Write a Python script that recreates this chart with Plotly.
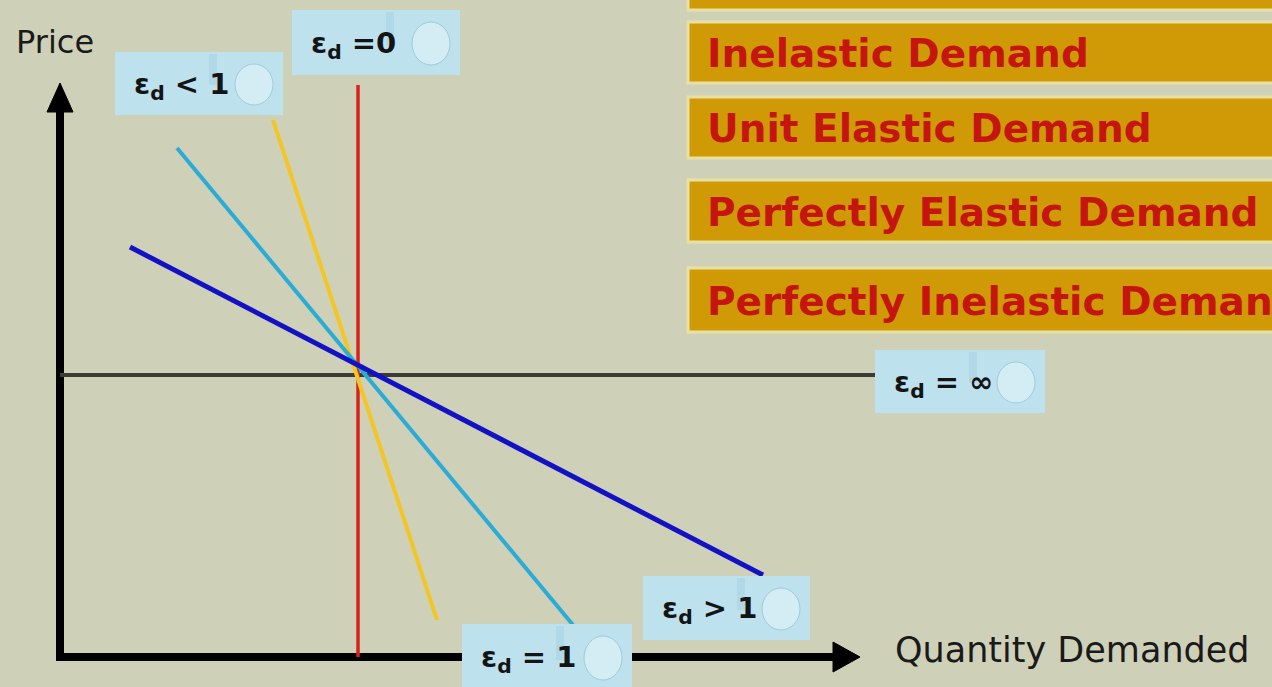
import plotly.graph_objects as go

# demand curves, in quantity / price units measured from the axes corner
curve_names = ["perfectly elastic", "perfectly inelastic", "inelastic", "unit elastic", "elastic"]
curve_q = [[0, 815], [298, 298], [213, 377], [117, 513], [70, 703]]
curve_p = [[282, 282], [0, 572], [537, 37], [509, 32], [410, 82]]
curve_colors = ["#3c3c34", "#d8221c", "#f2c624", "#2aacd6", "#1212c4"]
curve_widths = [4, 3.5, 4, 4, 5]

# elasticity tags: text and the box each one sits in (q0, q1, p0, p1)
tag_texts = ["ε<sub>d</sub> &lt; 1", "ε<sub>d</sub> =0", "ε<sub>d</sub> = ∞", "ε<sub>d</sub> &gt; 1", "ε<sub>d</sub> = 1"]
tag_boxes = [(55, 223, 542, 605), (232, 400, 582, 647), (815, 985, 244, 307),
             (583, 750, 17, 81), (402, 572, -33, 33)]

# menu of demand types on the right
menu_items = ["", "Inelastic Demand", "Unit Elastic Demand",
              "Perfectly Elastic Demand", "Perfectly Inelastic Demand"]
menu_boxes = [(662, 647), (635, 574), (560, 499), (477, 415), (389, 325)]

BG = "#cfd0b8"
q_axis_end, p_axis_end = 800, 574

fig = go.Figure()

# axes with arrowheads
fig.add_trace(go.Scatter(x=[-4, q_axis_end - 27], y=[0, 0], mode="lines",
                         line=dict(color="#000000", width=8), hoverinfo="skip"))
fig.add_trace(go.Scatter(x=[0, 0], y=[-4, p_axis_end - 29], mode="lines",
                         line=dict(color="#000000", width=8), hoverinfo="skip"))
fig.add_trace(go.Scatter(x=[q_axis_end - 27, q_axis_end, q_axis_end - 27, q_axis_end - 27],
                         y=[15, 0, -15, 15], mode="lines", fill="toself",
                         fillcolor="#000000", line=dict(color="#000000", width=1), hoverinfo="skip"))
fig.add_trace(go.Scatter(x=[-13, 0, 13, -13],
                         y=[p_axis_end - 29, p_axis_end, p_axis_end - 29, p_axis_end - 29],
                         mode="lines", fill="toself",
                         fillcolor="#000000", line=dict(color="#000000", width=1), hoverinfo="skip"))

for name, q, p, c, w in zip(curve_names, curve_q, curve_p, curve_colors, curve_widths):
    fig.add_trace(go.Scatter(x=q, y=p, mode="lines", name=name,
                             line=dict(color=c, width=w)))

shapes = []
annotations = []

for text, (q0, q1, p0, p1) in zip(tag_texts, tag_boxes):
    shapes.append(dict(type="rect", x0=q0, x1=q1, y0=p0, y1=p1, layer="above",
                       fillcolor="#bde2ee", line=dict(width=0)))
    # a bubble and a streak for the water texture
    shapes.append(dict(type="circle", x0=q1 - 48, x1=q1 - 10, y0=p0 + 10, y1=p1 - 12,
                       layer="above", fillcolor="#d4edf5", line=dict(color="#9ccbdc", width=1)))
    shapes.append(dict(type="rect", x0=q0 + 94, x1=q0 + 102, y0=p0 + 30, y1=p1 - 2,
                       layer="above", fillcolor="#b0d8e6", line=dict(width=0)))
    annotations.append(dict(x=q0 + 17, y=(p0 + p1) / 2 - 2, xref="x", yref="y",
                            text=f"<b>{text}</b>", showarrow=False,
                            xanchor="left", yanchor="middle",
                            font=dict(family="DejaVu Sans", size=29, color="#141414")))

for text, (top, bottom) in zip(menu_items, menu_boxes):
    shapes.append(dict(type="rect", x0=628, x1=1230, y0=bottom, y1=top, layer="above",
                       fillcolor="#cf9a06", line=dict(color="#e9e1a4", width=3)))
    if text:
        annotations.append(dict(x=645, y=(top + bottom) / 2 - 1, xref="x", yref="y",
                                text=f"<b>{text}</b>", showarrow=False,
                                xanchor="left", yanchor="middle",
                                font=dict(family="DejaVu Sans", size=39, color="#c4160e")))

annotations.append(dict(x=-5, y=615, xref="x", yref="y", text="Price", showarrow=False,
                        xanchor="center", yanchor="middle",
                        font=dict(family="DejaVu Sans", size=32, color="#1a1a1a")))
annotations.append(dict(x=833, y=7, xref="x", yref="y", text="Quantity Demanded",
                        showarrow=False, xanchor="left", yanchor="middle",
                        font=dict(family="DejaVu Sans", size=35, color="#1a1a1a")))

fig.update_layout(
    width=1272, height=687,
    margin=dict(l=0, r=0, t=0, b=0),
    paper_bgcolor=BG, plot_bgcolor=BG,
    showlegend=False,
    shapes=shapes, annotations=annotations,
    xaxis=dict(range=[-60, 1212], visible=False, fixedrange=True),
    yaxis=dict(range=[-30, 657], visible=False, fixedrange=True),
)

fig.write_html("out.html", config={"displayModeBar": False},
               post_script="document.body.style.margin='0';"
                           "document.body.style.background='" + BG + "';")
